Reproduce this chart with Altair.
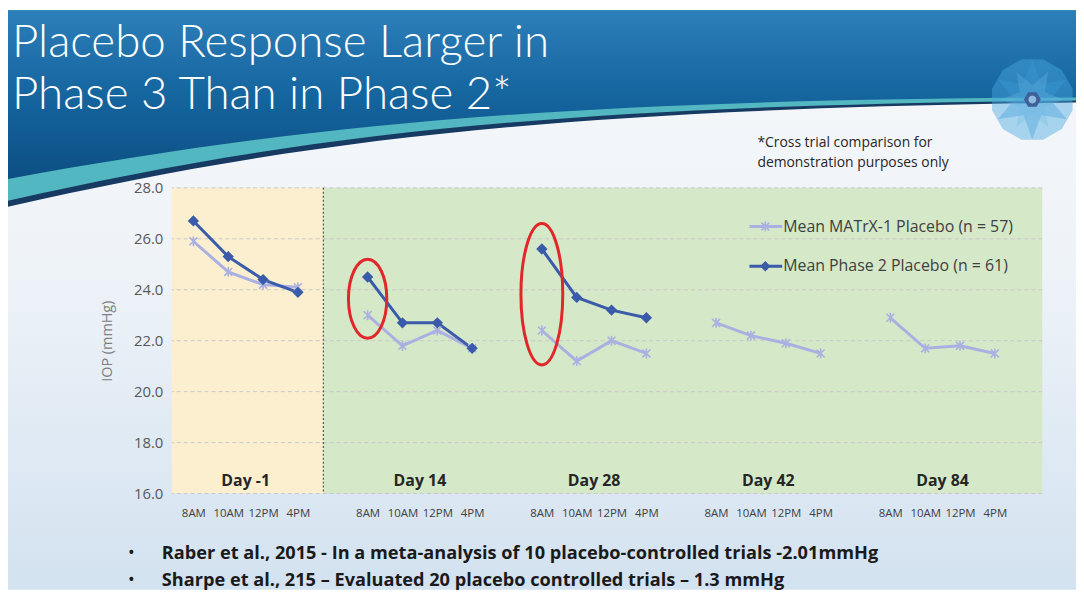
import json
import math
import altair as alt
import pandas as pd

# ---------------- data ----------------
days = ["Day -1", "Day 14", "Day 28", "Day 42", "Day 84"]
times = ["8AM", "10AM", "12PM", "4PM"]
series_names = ["Mean MATrX-1 Placebo (n = 57)", "Mean Phase 2 Placebo (n = 61)"]
matrx_values = [25.9, 24.7, 24.2, 24.1,
                23.0, 21.8, 22.4, 21.7,
                22.4, 21.2, 22.0, 21.5,
                22.7, 22.2, 21.9, 21.5,
                22.9, 21.7, 21.8, 21.5]
phase2_values = [26.7, 25.3, 24.4, 23.9,
                 24.5, 22.7, 22.7, 21.7,
                 25.6, 23.7, 23.2, 22.9,
                 None, None, None, None,
                 None, None, None, None]
y_ticks = [16.0, 18.0, 20.0, 22.0, 24.0, 26.0, 28.0]
y_axis_title = "IOP (mmHg)"
title_lines = ["Placebo Response Larger in", "Phase 3 Than in Phase 2*"]
note_lines = ["*Cross trial comparison for", "demonstration purposes only"]
bullet_lines = [
    "Raber et al., 2015 - In a meta-analysis of 10 placebo-controlled trials -2.01mmHg",
    "Sharpe et al., 215 \u2013 Evaluated 20 placebo controlled trials \u2013 1.3 mmHg",
]
# highlighted 8AM readings (red ellipses): day, low / high extent (mmHg), half width (slots)
highlight_days = ["Day 14", "Day 28"]
highlight_low = [22.1, 21.05]
highlight_high = [25.2, 26.6]
highlight_halfwidth = [0.55, 0.6]

# ---------------- layout / style ----------------
W, H = 1076, 584
PL, PT, PW, PH = 165, 179, 877, 308
PR, PB = W - PL - PW, H - PT - PH
SLOTS_PER_DAY = 5
x_domain = [-0.62, 24.36]
y_domain = [16.0, 28.0]
baseline_end = 3.73
C_MATRX = "#aab1e2"
C_PH2 = "#3a5ba9"
TXT_FONT = "Open Sans"

rows = []
for name, vals in zip(series_names, [matrx_values, phase2_values]):
    for i, v in enumerate(vals):
        if v is None:
            continue
        di, ti = divmod(i, len(times))
        rows.append({"series": name, "day": days[di], "time": times[ti],
                     "slot": di * SLOTS_PER_DAY + ti, "iop": v})
df = pd.DataFrame(rows)

xs = alt.Scale(domain=x_domain, nice=False, zero=False)
ys = alt.Scale(domain=y_domain, nice=False, zero=False)
label_slots = sorted(set(df["slot"].tolist()))
label_expr = json.dumps(times + ["", ""]) + "[datum.value % " + str(SLOTS_PER_DAY) + "]"
xaxis = alt.Axis(values=label_slots, labelExpr=label_expr, domain=False, ticks=False,
                 grid=False, labelFont=TXT_FONT, labelFontSize=11.5, labelColor="#404040",
                 labelPadding=14, labelOverlap=False, labelFlush=False, zindex=1)
yaxis = alt.Axis(values=y_ticks, format=".1f", title=y_axis_title, domain=False, ticks=False,
                 grid=False, labelFont=TXT_FONT, labelFontSize=15, labelColor="#595959",
                 labelPadding=9, titleFont=TXT_FONT, titleFontSize=14.5, titleColor="#7f7f7f",
                 titleFontWeight="normal", titleX=-58, titleY=PH / 2, zindex=1)
X = lambda f: alt.X(f, scale=xs, axis=xaxis, title=None)
Y = lambda f: alt.Y(f, scale=ys, axis=yaxis)

one = alt.Data(values=[{"k": 0}])


def path_layer(path, fill, opacity=1.0, cx=0, cy=0, size=4):
    return alt.Chart(one).mark_point(shape=path, filled=True, fill=fill, opacity=opacity,
                                     size=size, strokeWidth=0).encode(
        x=alt.value(cx), y=alt.value(cy))


def text_layer(txt, x, y, size, color, weight="normal", font=TXT_FONT, align="left",
               baseline="alphabetic"):
    return alt.Chart(one).mark_text(text=txt, font=font, fontSize=size, fontWeight=weight,
                                    color=color, align=align, baseline=baseline).encode(
        x=alt.value(x), y=alt.value(y))


def poly(n, r, rot=0.0):
    pts = []
    for k in range(n):
        a = rot + 2 * math.pi * k / n
        pts.append(f"{r * math.cos(a):.3f},{r * math.sin(a):.3f}")
    return "M" + "L".join(pts) + "Z"


def star(n, r1, r2, rot=0.0):
    pts = []
    for k in range(2 * n):
        a = rot + math.pi * k / n
        r = r1 if k % 2 == 0 else r2
        pts.append(f"{r * math.cos(a):.3f},{r * math.sin(a):.3f}")
    return "M" + "L".join(pts) + "Z"


def grad(stops, x2=0, y2=1):
    return {"gradient": "linear", "x1": 0, "y1": 0, "x2": x2, "y2": y2,
            "stops": [{"offset": o, "color": c} for o, c in stops]}


layers = []

# slide background
layers.append(alt.Chart(one).mark_rect(
    fill=grad([(0, "#f7f8fa"), (0.45, "#eef3f8"), (1, "#d3e2f0")])).encode(
    x=alt.value(-PL), x2=alt.value(W - PL), y=alt.value(-PT), y2=alt.value(H - PT)))

# header banner (navy edge, teal swoosh, blue body) - pixel paths relative to plot origin
navy = "M-165,-179L911,-179L911,-86C377,-79 127,-47 -165,19Z"
teal = "M-165,-179L911,-179L911,-88C377,-83 127,-53 -165,13Z"
blue = "M-165,-179L911,-179L911,-91C377,-89 127,-62 -165,-9Z"
layers.append(path_layer(navy, "#173a63"))
layers.append(path_layer(teal, "#52b7c0"))
layers.append(path_layer(blue, grad([(0, "#2d7fb9"), (0.5, "#15659f"), (1, "#0c4f83")])))

# logo
LX, LY = 867, -89
layers.append(path_layer(poly(12, 1, math.pi / 12), "#4aa8e0", 0.45, LX, LY, 84 ** 2))
layers.append(path_layer(star(6, 1, 0.45, -math.pi / 2), "#3d9ad6", 0.35, LX, LY, 80 ** 2))
layers.append(path_layer(star(6, 1, 0.45, -math.pi / 3), "#6cb8e6", 0.3, LX, LY, 64 ** 2))
layers.append(path_layer(poly(6, 1, 0), "#3e5f97", 1.0, LX, LY, 17 ** 2))
layers.append(path_layer(poly(12, 1, 0), "#8fbbe3", 1.0, LX, LY, 8 ** 2))

# title / notes / bullets
for i, t in enumerate(title_lines):
    layers.append(text_layer(t, -161, -132 + 53 * i, 46, "white", weight=300, font="Lato"))
for i, t in enumerate(note_lines):
    layers.append(text_layer(t, 590, -45 + 20 * i, 14, "#262626", baseline="middle"))
for i, t in enumerate(bullet_lines):
    layers.append(text_layer("\u2022", -44, 369 + 27 * i, 18, "#1a1a1a", baseline="middle"))
    layers.append(text_layer(t, -10, 369 + 27 * i, 18.3, "#1a1a1a", weight="bold",
                             baseline="middle"))

# plot background regions
regions = pd.DataFrame({"start": [x_domain[0], baseline_end],
                        "end": [baseline_end, x_domain[1]],
                        "top": [y_domain[1]] * 2, "bottom": [y_domain[0]] * 2,
                        "fill": ["#fcefcf", "#d5e8c8"]})
layers.append(alt.Chart(regions).mark_rect().encode(
    x=X("start:Q"), x2="end:Q", y=Y("top:Q"), y2="bottom:Q",
    color=alt.Color("fill:N", scale=None)))

# gridlines
layers.append(alt.Chart(pd.DataFrame({"tick": y_ticks})).mark_rule(
    color="#c9c9c9", strokeDash=[4, 3], strokeWidth=1).encode(y=Y("tick:Q")))

# divider between baseline and treatment
layers.append(alt.Chart(pd.DataFrame({"b": [baseline_end]})).mark_rule(
    color="#555555", strokeDash=[2, 2], strokeWidth=1.2).encode(x=X("b:Q")))

# day labels
day_df = pd.DataFrame({"day": days,
                       "center": [i * SLOTS_PER_DAY + (len(times) - 1) / 2 for i in range(len(days))]})
layers.append(alt.Chart(day_df).mark_text(font=TXT_FONT, fontSize=16, fontWeight="bold",
                                          color="#262626", baseline="middle").encode(
    x=X("center:Q"), y=alt.value(PH - 13), text="day:N"))

# data lines and markers
color = alt.Color("series:N", scale=alt.Scale(domain=series_names, range=[C_MATRX, C_PH2]),
                  legend=None)
layers.append(alt.Chart(df).mark_line(strokeWidth=3).encode(
    x=X("slot:Q"), y=Y("iop:Q"), color=color, detail="day:N", order="slot:Q"))
ASTER = "M-1,-1L1,1M-1,1L1,-1M0,-1.25L0,1.25"
layers.append(alt.Chart(df).transform_filter(
    alt.datum.series == series_names[0]).mark_point(
    shape=ASTER, filled=False, stroke=C_MATRX, strokeWidth=1.6, size=64, opacity=1).encode(
    x=X("slot:Q"), y=Y("iop:Q")))
layers.append(alt.Chart(df).transform_filter(
    alt.datum.series == series_names[1]).mark_point(
    shape="diamond", filled=True, fill=C_PH2, size=130, opacity=1).encode(
    x=X("slot:Q"), y=Y("iop:Q")))

# red ellipses
ppu_y = PH / (y_domain[1] - y_domain[0])
ppu_x = PW / (x_domain[1] - x_domain[0])
K = 0.5523
for d, lo, hi, hw in zip(highlight_days, highlight_low, highlight_high, highlight_halfwidth):
    h_px = (hi - lo) * ppu_y
    a = (2 * hw * ppu_x) / h_px
    ell = (f"M{a:.4f},0C{a:.4f},{K:.4f} {a * K:.4f},1 0,1"
           f"C{-a * K:.4f},1 {-a:.4f},{K:.4f} {-a:.4f},0"
           f"C{-a:.4f},{-K:.4f} {-a * K:.4f},-1 0,-1"
           f"C{a * K:.4f},-1 {a:.4f},{-K:.4f} {a:.4f},0Z")
    edf = pd.DataFrame({"slot": [days.index(d) * SLOTS_PER_DAY], "lo": [lo], "hi": [hi]})
    layers.append(alt.Chart(edf).transform_calculate(mid="(datum.lo + datum.hi) / 2").mark_point(
        shape=ell, filled=False, stroke="#e3262a", strokeWidth=3, size=h_px ** 2,
        opacity=1).encode(x=X("slot:Q"), y=Y("mid:Q")))

# legend (inside plot, top right)
for i, (name, c) in enumerate(zip(series_names, [C_MATRX, C_PH2])):
    ly = 39 + 40 * i
    layers.append(alt.Chart(one).mark_rule(color=c, strokeWidth=3).encode(
        x=alt.value(582), x2=alt.value(615), y=alt.value(ly)))
    if i == 0:
        layers.append(alt.Chart(one).mark_point(shape=ASTER, filled=False, stroke=c,
                                                strokeWidth=1.6, size=64, opacity=1).encode(
            x=alt.value(598), y=alt.value(ly)))
    else:
        layers.append(alt.Chart(one).mark_point(shape="diamond", filled=True, fill=c,
                                                size=110, opacity=1).encode(
            x=alt.value(598), y=alt.value(ly)))
    layers.append(text_layer(name, 616, ly, 16, "#404040", baseline="middle"))

chart = alt.layer(*layers).properties(
    width=PW, height=PH,
    padding={"left": PL, "top": PT, "right": PR, "bottom": PB},
    autosize=alt.AutoSizeParams(type="none"),
    background="white",
).configure_view(strokeWidth=0)

chart.save("out.html", embed_options={"renderer": "svg", "actions": False})
